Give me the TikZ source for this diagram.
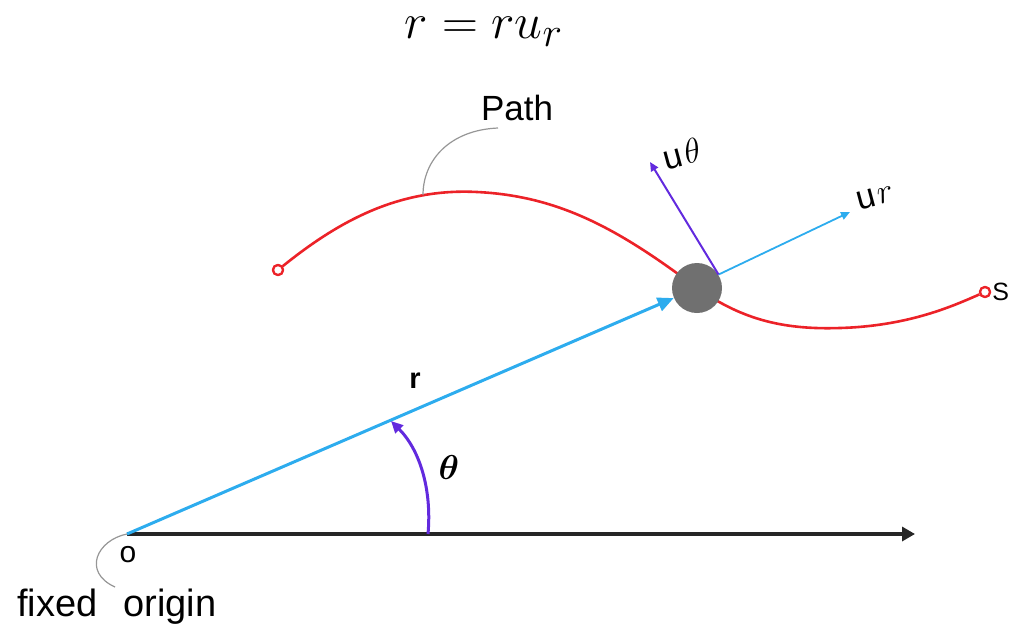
\documentclass[tikz,border=0pt]{standalone}
\usepackage{fontspec}
\usepackage{amsmath}
\usepackage{amssymb}
\usepackage{xcolor}
\setmainfont{Liberation Sans}
\usetikzlibrary{arrows.meta,positioning,calc}
\definecolor{PathRed}{RGB}{236,34,40}
\definecolor{RayBlue}{RGB}{45,172,238}
\definecolor{AngPurple}{RGB}{98,42,222}
\definecolor{DotGray}{RGB}{112,112,112}
\definecolor{LeadGray}{RGB}{150,150,150}
\tikzset{
  redpath/.style={PathRed,line width=1.3pt},
  endpt/.style={circle,draw=PathRed,fill=white,line width=1.1pt,
                minimum size=5pt,inner sep=0pt},
  particle/.style={circle,fill=DotGray,minimum size=25pt,inner sep=0pt},
  rvec/.style={-{Triangle[length=8pt,width=7pt]},RayBlue,line width=1.5pt},
  urvec/.style={-{Triangle[length=4.5pt,width=4pt]},RayBlue,line width=0.9pt},
  uthvec/.style={-{Triangle[length=4.5pt,width=4pt]},AngPurple,line width=1pt},
  axisarr/.style={-{Triangle[length=6.5pt,width=7pt]},black!85,line width=2pt},
  angarr/.style={-{Triangle[length=6pt,width=5.5pt]},AngPurple,line width=1.5pt},
  leader/.style={LeadGray,line width=0.6pt},
  lbl/.style={inner sep=0pt,text=black},
}

\begin{document}
\begin{tikzpicture}[x=0.5pt,y=-0.5pt]
\useasboundingbox (0,0) rectangle (1011,632);
\node[lbl,font=\fontsize{29}{32}\selectfont] (eq) at (484,32) {$r = r u_r$};

\coordinate (O) at (127,534);
\coordinate (X) at (915,534);
\coordinate (Pc) at (697,288);
\node[endpt] (A) at (278,270) {};
\node[endpt] (S) at (985,292) {};

\draw[redpath] (A) .. controls (340,220) and (400,188) .. (477,192)
  .. controls (560,196) and (620,230) .. (Pc)
  .. controls (740,318) and (780,330) .. (840,328)
  .. controls (910,326) and (955,305) .. (S);
\node[endpt] at (A) {};
\node[endpt] at (S) {};
\node[particle] (P) at (Pc) {};

\draw[axisarr] (O) -- (X);
\draw[rvec] (O) -- (P);
\draw[urvec] (P.32) -- (850,212) coordinate (urtip);
\draw[uthvec] (P.32) -- (650,162) coordinate (uthtip);

\coordinate (T1) at (428,534);
\coordinate (T2) at (391,421);
\draw[angarr] (T1) .. controls (432,490) and (420,450) .. (T2);

\node[lbl,font=\fontsize{17.5}{20}\selectfont] (pathlbl) at (517,108) {Path};
\coordinate (pl) at (498,128);
\coordinate (pp) at (423,195);
\draw[leader] (pl) .. controls (450,130) and (423,160) .. (pp);

\node[lbl,font=\fontsize{14.5}{16}\selectfont\bfseries] (rlbl) at (415,381) {r};
\node[lbl,font=\fontsize{16}{18}\selectfont] (thlbl) at (449,467) {$\boldsymbol{\theta}$};
\node[lbl,font=\fontsize{17}{19}\selectfont,rotate=15] (uthlbl) at (682,154) {u\kern1pt$\theta$};
\node[lbl,font=\fontsize{17}{19}\selectfont,rotate=15] (urlbl) at (875,197) {u\kern1pt$r$};
\node[lbl,font=\fontsize{12.5}{14}\selectfont,anchor=west] (slbl) at (992,292) {S};

\node[lbl,font=\fontsize{15}{16}\selectfont] (olbl) at (128,555) {o};
\node[lbl,font=\fontsize{19}{22}\selectfont] (fixlbl) at (117,607) {fixed\hspace{13pt}origin};
\coordinate (fo) at (115,587);
\draw[leader] (O) .. controls (97,540) and (82,572) .. (fo);
\end{tikzpicture}
\end{document}
